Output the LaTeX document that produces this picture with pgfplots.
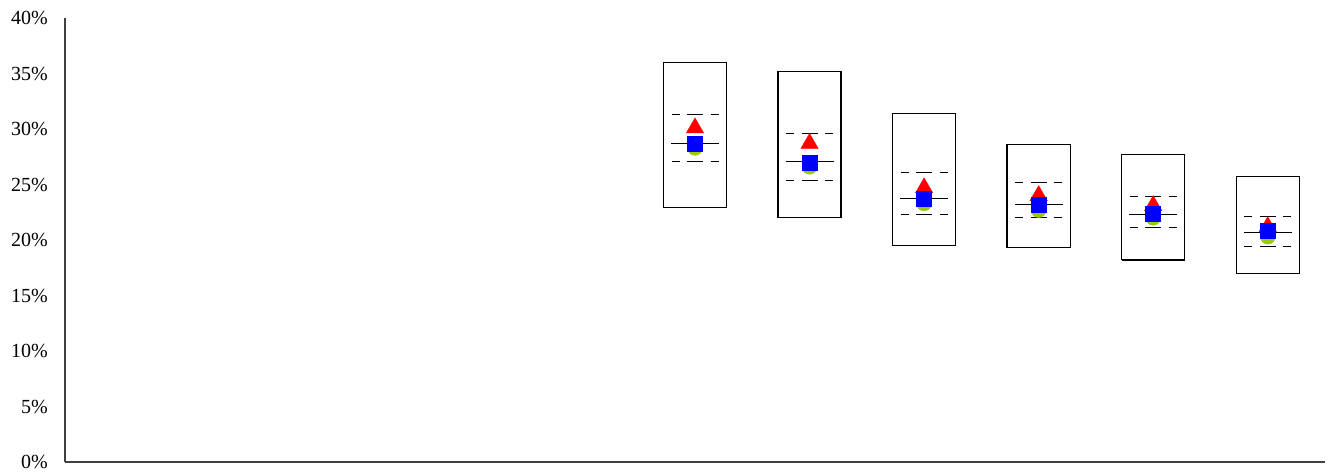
\documentclass[border=0pt]{standalone}
\usepackage{fontspec}
\setmainfont{Liberation Serif}
\usepackage{pgfplots}
\usepackage{pgfplotstable}
\pgfplotsset{compat=1.18}
\definecolor{ygreen}{HTML}{99CC00}

% x, box top/bottom, dashed upper/lower, median line, triangle, square, circle
\pgfplotstableread{
x  top  bot  uq   lq   med  tri  sq   circ
6  36.0 22.9 31.3 27.1 28.7 30.1 28.7 28.3
7  35.2 22.0 29.6 25.4 27.1 28.7 27.0 26.6
8  31.4 19.5 26.1 22.3 23.7 24.7 23.7 23.3
9  28.6 19.3 25.2 22.0 23.2 24.0 23.2 22.7
10 27.7 18.2 23.9 21.1 22.3 23.1 22.4 22.0
11 25.7 17.0 22.1 19.4 20.7 21.2 20.8 20.3
}\boxdata

\pgfplotsset{hline/.style={draw=none, forget plot, error bars/.cd, x dir=both, x fixed=0.21,
    error mark=none, error bar style={draw=black, line width=1pt, #1}}}

\begin{document}
\begin{tikzpicture}
\begin{axis}[
    name=main,
    width=1260pt, height=444pt, scale only axis,
    xmin=0.5, xmax=11.5, ymin=0, ymax=40,
    axis x line*=bottom, axis y line*=left,
    axis line style={-, black!75, line width=1.1pt},
    xtick=\empty,
    ytick={0,5,...,40},
    major tick length=0pt,
    yticklabel={\pgfmathprintnumber{\tick}\%},
    yticklabel style={font=\fontsize{20}{22}\selectfont, inner xsep=0pt, xshift=-17pt},
    /pgf/number format/assume math mode=true,
    clip=false,
]
% outer boxes
\addplot[black, line width=1.3pt] coordinates {
(5.725,22.9) (6.275,22.9) (6.275,36.0) (5.725,36.0) (5.725,22.9)};
\addplot[black, line width=1.3pt] coordinates {
(6.725,22.0) (7.275,22.0) (7.275,35.2) (6.725,35.2) (6.725,22.0)};
\addplot[black, line width=1.3pt] coordinates {
(7.725,19.5) (8.275,19.5) (8.275,31.4) (7.725,31.4) (7.725,19.5)};
\addplot[black, line width=1.3pt] coordinates {
(8.725,19.3) (9.275,19.3) (9.275,28.6) (8.725,28.6) (8.725,19.3)};
\addplot[black, line width=1.3pt] coordinates {
(9.725,18.2) (10.275,18.2) (10.275,27.7) (9.725,27.7) (9.725,18.2)};
\addplot[black, line width=1.3pt] coordinates {
(10.725,17.0) (11.275,17.0) (11.275,25.7) (10.725,25.7) (10.725,17.0)};
% dashed lines
\addplot[hline={dash pattern=on 8pt off 7.5pt}] table[x=x, y=uq] {\boxdata};
\addplot[hline={dash pattern=on 8pt off 7.5pt}] table[x=x, y=lq] {\boxdata};
% markers
\addplot[only marks, mark=*, mark size=7.5pt, color=ygreen] table[x=x, y=circ] {\boxdata};
\addplot[only marks, mark=triangle*, mark size=10pt, color=red] table[x=x, y=tri] {\boxdata};
\addplot[only marks, mark=square*, mark size=7.5pt, color=blue] table[x=x, y=sq] {\boxdata};
% median lines
\addplot[hline={solid}] table[x=x, y=med] {\boxdata};
\end{axis}
\path (main.south west) ++(-65pt,-9pt) (main.north east) ++(13pt,18pt);
\end{tikzpicture}
\end{document}
